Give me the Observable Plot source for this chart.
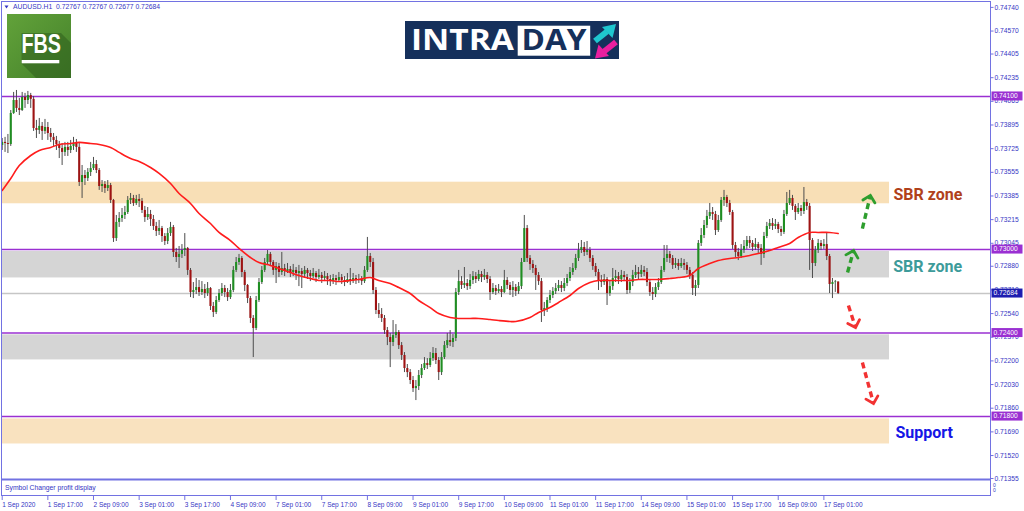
<!DOCTYPE html>
<html><head><meta charset="utf-8">
<script src="https://cdn.jsdelivr.net/npm/d3@7"></script>
<script src="https://cdn.jsdelivr.net/npm/@observablehq/plot@0.6"></script>
<style>
html,body{margin:0;padding:0;background:#fff;}
#wrap{position:relative;width:1024px;height:511px;overflow:hidden;}
#wrap svg{display:block;}
#overlay{position:absolute;left:0;top:0;pointer-events:none;}
</style></head><body><div id="wrap"></div>
<script>
// ---------- DATA ----------
const symbolName = "AUDUSD.H1";
const firstOpen = 0.73748;
const closes = [
0.73770,0.73762,0.73755,0.73978,0.74071,0.74014,0.73999,0.74093,0.74071,0.74107,
0.74079,0.73870,0.73856,0.73885,0.73849,0.73877,0.73834,0.73806,0.73784,0.73755,
0.73726,0.73698,0.73734,0.73712,0.73741,0.73762,0.73734,0.73482,0.73532,0.73510,
0.73554,0.73582,0.73611,0.73568,0.73453,0.73467,0.73439,0.73460,0.73353,0.73079,
0.73195,0.73223,0.73245,0.73266,0.73353,0.73367,0.73331,0.73360,0.73346,0.73281,
0.73230,0.73252,0.73216,0.73166,0.73130,0.73151,0.73094,0.73058,0.73115,0.73159,
0.72979,0.72943,0.72965,0.72993,0.73008,0.72850,0.72691,0.72706,0.72727,0.72691,
0.72713,0.72684,0.72720,0.72591,0.72548,0.72634,0.72684,0.72720,0.72691,0.72655,
0.72706,0.72850,0.72907,0.72936,0.72835,0.72742,0.72648,0.72505,0.72433,0.72634,
0.72763,0.72850,0.72907,0.72965,0.72907,0.72850,0.72878,0.72835,0.72864,0.72842,
0.72857,0.72835,0.72850,0.72828,0.72842,0.72821,0.72850,0.72828,0.72806,0.72828,
0.72799,0.72814,0.72792,0.72806,0.72785,0.72770,0.72792,0.72778,0.72799,0.72778,
0.72763,0.72785,0.72770,0.72792,0.72778,0.72785,0.72770,0.72850,0.72950,0.72907,
0.72706,0.72562,0.72533,0.72505,0.72418,0.72368,0.72332,0.72382,0.72404,0.72310,
0.72239,0.72145,0.72116,0.72059,0.72001,0.72016,0.72095,0.72145,0.72181,0.72167,
0.72217,0.72253,0.72203,0.72116,0.72224,0.72310,0.72346,0.72332,0.72361,0.72691,
0.72770,0.72742,0.72756,0.72734,0.72778,0.72806,0.72785,0.72821,0.72799,0.72814,
0.72785,0.72691,0.72720,0.72698,0.72713,0.72691,0.72778,0.72742,0.72706,0.72727,
0.72698,0.72734,0.72907,0.73151,0.72936,0.72893,0.72864,0.72814,0.72770,0.72562,
0.72577,0.72634,0.72670,0.72698,0.72720,0.72742,0.72720,0.72756,0.72792,0.72835,
0.72864,0.72936,0.72993,0.73015,0.72979,0.72993,0.72936,0.72878,0.72835,0.72778,
0.72763,0.72785,0.72684,0.72734,0.72792,0.72806,0.72785,0.72814,0.72799,0.72706,
0.72763,0.72814,0.72835,0.72821,0.72850,0.72835,0.72763,0.72691,0.72677,0.72727,
0.72763,0.72850,0.72936,0.72965,0.72936,0.72886,0.72900,0.72878,0.72900,0.72886,
0.72850,0.72814,0.72720,0.72742,0.73044,0.73101,0.73173,0.73238,0.73266,0.73252,
0.73137,0.73209,0.73353,0.73374,0.73331,0.73266,0.73029,0.72979,0.72950,0.72993,
0.73022,0.73065,0.73044,0.73015,0.73036,0.73008,0.72965,0.73094,0.73166,0.73187,
0.73166,0.73180,0.73144,0.73123,0.73252,0.73331,0.73367,0.73310,0.73266,0.73295,
0.73274,0.73338,0.73310,0.73065,0.72900,0.72993,0.73044,0.73022,0.73036,0.72950,
0.72749,0.72763,0.72767,0.72684];
const highs = [
0.73798,0.73806,0.73827,0.73999,0.74129,0.74143,0.74086,0.74129,0.74122,0.74136,
0.74122,0.74100,0.73928,0.73942,0.73913,0.73935,0.73913,0.73870,0.73834,0.73813,
0.73777,0.73762,0.73770,0.73770,0.73784,0.73806,0.73791,0.73762,0.73604,0.73568,
0.73582,0.73626,0.73662,0.73640,0.73582,0.73496,0.73489,0.73496,0.73475,0.73360,
0.73245,0.73266,0.73295,0.73310,0.73381,0.73403,0.73389,0.73389,0.73396,0.73367,
0.73310,0.73302,0.73281,0.73245,0.73195,0.73209,0.73166,0.73115,0.73151,0.73195,
0.73173,0.73008,0.73022,0.73036,0.73115,0.73015,0.72864,0.72763,0.72792,0.72778,
0.72770,0.72749,0.72763,0.72727,0.72620,0.72663,0.72713,0.72756,0.72742,0.72720,
0.72749,0.72878,0.72943,0.72965,0.72950,0.72850,0.72749,0.72663,0.72526,0.72663,
0.72792,0.72878,0.72936,0.72993,0.72979,0.72921,0.72907,0.72900,0.72979,0.72893,
0.72900,0.72878,0.72893,0.72871,0.72886,0.72864,0.72878,0.72864,0.72850,0.72864,
0.72842,0.72857,0.72835,0.72842,0.72828,0.72814,0.72821,0.72814,0.72835,0.72821,
0.72806,0.72828,0.72864,0.72828,0.72814,0.72821,0.72806,0.72878,0.73087,0.72972,
0.72936,0.72727,0.72612,0.72576,0.72526,0.72440,0.72397,0.72490,0.72461,0.72418,
0.72332,0.72260,0.72174,0.72138,0.72088,0.72059,0.72131,0.72174,0.72224,0.72217,
0.72260,0.72296,0.72289,0.72224,0.72260,0.72339,0.72397,0.72418,0.72390,0.72720,
0.72850,0.72806,0.72871,0.72785,0.72821,0.72842,0.72835,0.72850,0.72842,0.72857,
0.72835,0.72806,0.72756,0.72742,0.72749,0.72734,0.72850,0.72799,0.72763,0.72770,
0.72749,0.72763,0.72936,0.73245,0.73173,0.72957,0.72921,0.72886,0.72835,0.72792,
0.72620,0.72655,0.72706,0.72727,0.72756,0.72778,0.72770,0.72792,0.72821,0.72871,
0.72900,0.72965,0.73044,0.73065,0.73051,0.73058,0.73015,0.72957,0.72900,0.72857,
0.72814,0.72821,0.72799,0.72778,0.72864,0.72850,0.72835,0.72850,0.72842,0.72821,
0.72792,0.72850,0.72886,0.72871,0.72886,0.72878,0.72864,0.72785,0.72727,0.72756,
0.72792,0.72878,0.73029,0.73029,0.72986,0.72957,0.72936,0.72929,0.72936,0.72929,
0.72907,0.72871,0.72835,0.72778,0.73065,0.73151,0.73209,0.73281,0.73331,0.73302,
0.73274,0.73245,0.73374,0.73425,0.73389,0.73353,0.73281,0.73051,0.73008,0.73036,
0.73065,0.73094,0.73094,0.73065,0.73079,0.73051,0.73036,0.73123,0.73195,0.73216,
0.73223,0.73216,0.73195,0.73166,0.73281,0.73410,0.73425,0.73389,0.73324,0.73331,
0.73317,0.73446,0.73360,0.73331,0.73079,0.73022,0.73072,0.73065,0.73072,0.73123,
0.72965,0.72792,0.72778,0.72767];
const lows = [
0.73712,0.73698,0.73690,0.73741,0.73971,0.73985,0.73963,0.73992,0.74014,0.74042,
0.74014,0.73849,0.73798,0.73827,0.73784,0.73827,0.73784,0.73770,0.73741,0.73712,
0.73654,0.73604,0.73669,0.73669,0.73690,0.73712,0.73698,0.73453,0.73367,0.73460,
0.73489,0.73525,0.73568,0.73546,0.73425,0.73410,0.73403,0.73417,0.73331,0.73051,
0.73058,0.73159,0.73195,0.73216,0.73252,0.73324,0.73310,0.73317,0.73302,0.73259,
0.73195,0.73209,0.73166,0.73137,0.73094,0.73101,0.73051,0.73029,0.73036,0.73094,
0.72943,0.72907,0.72864,0.72936,0.72950,0.72814,0.72655,0.72648,0.72677,0.72663,
0.72670,0.72648,0.72663,0.72562,0.72512,0.72533,0.72620,0.72663,0.72655,0.72627,
0.72641,0.72691,0.72835,0.72886,0.72799,0.72698,0.72612,0.72469,0.72224,0.72418,
0.72620,0.72749,0.72835,0.72886,0.72878,0.72814,0.72756,0.72799,0.72814,0.72806,
0.72828,0.72799,0.72806,0.72778,0.72734,0.72720,0.72792,0.72785,0.72770,0.72792,
0.72763,0.72785,0.72756,0.72770,0.72742,0.72734,0.72749,0.72742,0.72763,0.72749,
0.72734,0.72756,0.72742,0.72756,0.72749,0.72756,0.72742,0.72756,0.72835,0.72871,
0.72677,0.72533,0.72505,0.72476,0.72390,0.72310,0.72152,0.72303,0.72361,0.72282,
0.72203,0.72116,0.72080,0.72030,0.71973,0.71915,0.71987,0.72073,0.72131,0.72138,
0.72152,0.72196,0.72174,0.72059,0.72095,0.72210,0.72289,0.72303,0.72296,0.72339,
0.72670,0.72713,0.72720,0.72706,0.72713,0.72749,0.72756,0.72770,0.72763,0.72778,
0.72756,0.72634,0.72677,0.72670,0.72684,0.72655,0.72684,0.72713,0.72670,0.72655,
0.72663,0.72677,0.72713,0.72907,0.72907,0.72850,0.72828,0.72706,0.72742,0.72476,
0.72519,0.72548,0.72612,0.72648,0.72677,0.72698,0.72691,0.72698,0.72734,0.72770,
0.72814,0.72850,0.72914,0.72972,0.72950,0.72957,0.72907,0.72850,0.72806,0.72706,
0.72727,0.72742,0.72598,0.72663,0.72706,0.72763,0.72749,0.72763,0.72770,0.72677,
0.72684,0.72734,0.72792,0.72785,0.72799,0.72806,0.72734,0.72663,0.72634,0.72655,
0.72706,0.72749,0.72835,0.72907,0.72900,0.72857,0.72864,0.72850,0.72864,0.72850,
0.72821,0.72785,0.72670,0.72663,0.72720,0.73022,0.73079,0.73151,0.73216,0.73209,
0.73101,0.73123,0.73195,0.73310,0.73302,0.73245,0.73001,0.72943,0.72921,0.72936,
0.72972,0.73001,0.73008,0.72986,0.72993,0.72972,0.72886,0.72936,0.73079,0.73144,
0.73137,0.73144,0.73115,0.73094,0.73108,0.73238,0.73317,0.73281,0.73209,0.73252,
0.73238,0.73252,0.73281,0.72850,0.72792,0.72878,0.72972,0.72993,0.73001,0.72921,
0.72684,0.72648,0.72692,0.72677];

// moving average (bar index, value)
const maBar = [0,3,6,10,13,17,20,24,27,31,34,38,41,45,48,52,55,59,62,66,69,73,76,80,83,87,90,94,97,101,104,108,111,115,118,122,125,129,132,136,139,143,146,150,153,157,160,164,167,171,174,178,180,185,188,192,195,199,202,206,209,213,216,220,223,227,230,234,237,241,244,248,251,255,258,262,265,269,272,276,279,283,286,290,293];
const maVal = [0.73425,0.73511,0.73604,0.73676,0.73712,0.73734,0.73755,0.73762,0.73770,0.73762,0.73755,0.73734,0.73698,0.73654,0.73633,0.73590,0.73547,0.73475,0.73403,0.73331,0.73259,0.73187,0.73123,0.73065,0.73008,0.72943,0.72907,0.72886,0.72864,0.72835,0.72814,0.72792,0.72778,0.72778,0.72770,0.72778,0.72785,0.72799,0.72778,0.72756,0.72727,0.72684,0.72634,0.72583,0.72540,0.72512,0.72505,0.72505,0.72505,0.72497,0.72490,0.72483,0.72483,0.72512,0.72548,0.72584,0.72620,0.72670,0.72720,0.72763,0.72778,0.72778,0.72778,0.72778,0.72785,0.72785,0.72785,0.72792,0.72799,0.72814,0.72864,0.72900,0.72921,0.72936,0.72943,0.72957,0.72972,0.72993,0.73015,0.73044,0.73087,0.73123,0.73123,0.73123,0.73115];

// horizontal levels and zones
const levels = [0.74100, 0.73000, 0.72400, 0.71800];
const currentPrice = 0.72684;
const zoneLow  = [0.73329, 0.72796, 0.72207, 0.71603];
const zoneHigh = [0.73484, 0.72986, 0.72387, 0.71783];
const zoneColor = ["#f8dfb6", "#d5d5d5", "#d5d5d5", "#f9e2bf"];
const zoneEndBar = 311;

// zone labels
const zoneLabelText  = ["SBR zone", "SBR zone", "Support"];
const zoneLabelPrice = [0.73396, 0.72879, 0.71682];
const zoneLabelBar   = [312.4, 312.3, 313.1];
const zoneLabelColor = ["#b0411b", "#3d9b9a", "#1616e6"];

// projection arrows
const arrowFromBar   = [296.3, 301.5, 296.6, 301.5];
const arrowFromPrice = [0.72835, 0.73151, 0.72598, 0.72188];
const arrowToBar     = [298.4, 304.3, 299.1, 305.4];
const arrowToPrice   = [0.72993, 0.73389, 0.72440, 0.71894];
const arrowColor     = ["#2e9e2e", "#2e9e2e", "#f23232", "#f23232"];

// axes
const xTickBars = [0,16,32,48,64,80,96,112,128,144,160,176,192,208,224,240,256,272,288];
const xTickLabels = ["1 Sep 2020","1 Sep 17:00","2 Sep 09:00","3 Sep 01:00","3 Sep 17:00","4 Sep 09:00","7 Sep 01:00","7 Sep 17:00","8 Sep 09:00","9 Sep 01:00","9 Sep 17:00","10 Sep 09:00","11 Sep 01:00","11 Sep 17:00","14 Sep 09:00","15 Sep 01:00","15 Sep 17:00","16 Sep 09:00","17 Sep 01:00"];
const yTicks = [0.74740,0.74570,0.74405,0.74235,0.74065,0.73895,0.73725,0.73555,0.73385,0.73215,0.73045,0.72880,0.72710,0.72540,0.72370,0.72200,0.72030,0.71860,0.71690,0.71520,0.71355];

// ---------- BUILD ----------
const W = 1024, H = 511;
const M = {left: 2, right: 34, top: 3, bottom: 33};
const frameColor = "#7272e2";
const textColor = "#3535c4";
const xDomain = [0.105, 346.4];
const yDomain = [0.71355, 0.74768];
const kx = (W - M.left - M.right) / (xDomain[1] - xDomain[0]);
const ky = (H - M.top - M.bottom) / (yDomain[1] - yDomain[0]);

const bars = closes.map((c, i) => ({i, o: i === 0 ? firstOpen : closes[i - 1], h: highs[i], l: lows[i], c}));
const up = bars.filter(d => d.c >= d.o), down = bars.filter(d => d.c < d.o);
const ma = maBar.map((b, k) => ({b, v: maVal[k]}));
const zones = zoneLow.map((lo, k) => ({lo, hi: zoneHigh[k], fill: zoneColor[k]}));
const labels = zoneLabelText.map((t, k) => ({t, p: zoneLabelPrice[k], b: zoneLabelBar[k], color: zoneLabelColor[k]}));
const arrows = arrowFromBar.map((b, k) => {
  const dxp = (arrowToBar[k] - b) * kx, dyp = -(arrowToPrice[k] - arrowFromPrice[k]) * ky;
  return {x1: b, y1: arrowFromPrice[k], x2: arrowToBar[k], y2: arrowToPrice[k],
          rot: Math.atan2(dxp, -dyp) * 180 / Math.PI, color: arrowColor[k]};
});
// open chevron head drawn at the tip of a vector
const chevron = {draw(ctx, l) { const w = 6.2; ctx.moveTo(-w, -l + w); ctx.lineTo(0, -l); ctx.lineTo(w, -l + w); }};

const chart = Plot.plot({
  width: W, height: H,
  marginLeft: M.left, marginRight: M.right, marginTop: M.top, marginBottom: M.bottom,
  x: {type: "linear", domain: xDomain, axis: null},
  y: {type: "linear", domain: yDomain, axis: null},
  style: {background: "transparent", fontFamily: "'Liberation Sans', Arial, sans-serif", overflow: "visible"},
  marks: [
    Plot.rect(zones, {x1: () => xDomain[0], x2: () => zoneEndBar, y1: "lo", y2: "hi", fill: d => d.fill}),
    Plot.ruleY([currentPrice], {stroke: "#c6c6c6", strokeWidth: 1.4}),
    Plot.ruleY(levels, {stroke: "#9a30d2", strokeWidth: 1.6}),
    Plot.ruleX(bars, {x: "i", y1: "l", y2: "h", stroke: "#4d4d4d", strokeWidth: 1}),
    Plot.ruleX(up, {x: "i", y1: "o", y2: "c", stroke: "#1f8e22", strokeWidth: 2.1}),
    Plot.ruleX(down, {x: "i", y1: "o", y2: "c", stroke: "#9e1313", strokeWidth: 2.1}),
    Plot.line(ma, {x: "b", y: "v", stroke: "#ff1c1c", strokeWidth: 1.6, curve: "catmull-rom"}),
    Plot.link(arrows, {x1: "x1", y1: "y1", x2: "x2", y2: "y2", stroke: d => d.color, strokeWidth: 3.4, strokeDasharray: "6,4"}),
    Plot.vector(arrows, {x: "x2", y: "y2", rotate: "rot", length: 1.5, anchor: "end", shape: chevron, stroke: d => d.color, strokeWidth: 2.8, strokeLinejoin: "miter"}),
    Plot.text(labels, {x: "b", y: "p", text: "t", fill: d => d.color, textAnchor: "start", fontSize: 16, fontWeight: "bold", fontFamily: "Roboto, 'Open Sans', sans-serif"}),
    Plot.axisY({anchor: "right", ticks: yTicks, tickFormat: d => d.toFixed(5), tickSize: 2.5, tickPadding: 1.5, fontSize: 6.7, fill: textColor, stroke: frameColor, label: null}),
    Plot.axisX({anchor: "bottom", ticks: xTickBars, tickFormat: d => xTickLabels[xTickBars.indexOf(d)], dy: 18, tickSize: 4, tickPadding: 1.5, textAnchor: "start", fontSize: 6.5, fill: textColor, stroke: frameColor, label: null})
  ]
});

const wrap = document.getElementById("wrap");
wrap.appendChild(chart);

// chrome overlay (frame, panel, header, logos, price tags)
const ys = chart.scale("y");
const last = bars[bars.length - 1];
const f5 = v => v.toFixed(5);
let tags = "";
levels.forEach(v => {
  const y = ys.apply(v);
  tags += `<rect x="991.5" y="${y - 4.5}" width="31" height="9" fill="#9a30d2"/><text x="993.5" y="${y + 2.4}" fill="#fff" font-size="6.7">${f5(v)}</text>`;
});
{
  const y = ys.apply(currentPrice);
  tags += `<rect x="991.5" y="${y - 4.5}" width="31" height="9" fill="#1d1db0"/><text x="993.5" y="${y + 2.4}" fill="#fff" font-size="6.7">${f5(currentPrice)}</text>`;
}
const header = `${symbolName}&#160; ${f5(last.o)} ${f5(last.h)} ${f5(last.l)} ${f5(last.c)}`;
const ov = `
<svg id="overlay" width="${W}" height="${H}" xmlns="http://www.w3.org/2000/svg" font-family="'Liberation Sans', Arial, sans-serif">
  <rect x="1.5" y="1.5" width="989" height="494" fill="none" stroke="${frameColor}" stroke-width="1"/>
  <rect x="1" y="478.5" width="990" height="2" fill="${frameColor}"/>
  <text x="5" y="490" fill="${textColor}" font-size="6.8">Symbol Changer profit display</text>
  <text x="993" y="487" fill="${textColor}" font-size="5">0</text>
  <text x="993" y="492" fill="${textColor}" font-size="5">0</text>
  <path d="M4.5,5.5 L8.5,5.5 L6.5,8.5 Z" fill="${textColor}"/>
  <text x="13" y="9.4" fill="${textColor}" font-size="6.8">${header}</text>
  ${tags}
  <defs>
    <linearGradient id="fbsg" x1="0" y1="0" x2="1" y2="1">
      <stop offset="0" stop-color="#62a23a"/><stop offset="1" stop-color="#44812a"/>
    </linearGradient>
  </defs>
  <rect x="7" y="14" width="64" height="64" fill="url(#fbsg)"/>
  <path d="M21.5,33 L61,33 L71,43 L71,78 L36,78 L21.5,63.5 Z" fill="#2f5f1d" opacity="0.55"/>
  <text x="21.5" y="53.3" fill="#fff" font-size="27.5" font-weight="bold" textLength="39.5" lengthAdjust="spacingAndGlyphs">FBS</text>
  <rect x="21.7" y="60" width="37.6" height="3.3" fill="#fff"/>
  <rect x="405" y="21" width="214" height="38" fill="#15305b"/>
  <text x="411" y="50.3" fill="#fff" font-size="28" font-weight="bold" font-family="'Open Sans', Roboto, sans-serif" textLength="103" lengthAdjust="spacingAndGlyphs">INTRA</text>
  <rect x="517.7" y="25.7" width="72.5" height="30" fill="#fff"/>
  <text x="521.5" y="50.3" fill="#15305b" font-size="28" font-weight="bold" font-family="'Open Sans', Roboto, sans-serif" textLength="65" lengthAdjust="spacingAndGlyphs">DAY</text>
  <path d="M595,41 L607,31.5" stroke="#1fc7cf" stroke-width="6"/>
  <path d="M602,27 L616,24 L612.5,38 Z" fill="#1fc7cf"/>
  <path d="M616,42 L604,51.5" stroke="#ea1f9f" stroke-width="6"/>
  <path d="M609,56 L595,58.5 L598.5,44.5 Z" fill="#ea1f9f"/>
</svg>`;
wrap.insertAdjacentHTML("beforeend", ov);
</script>
</body></html>
